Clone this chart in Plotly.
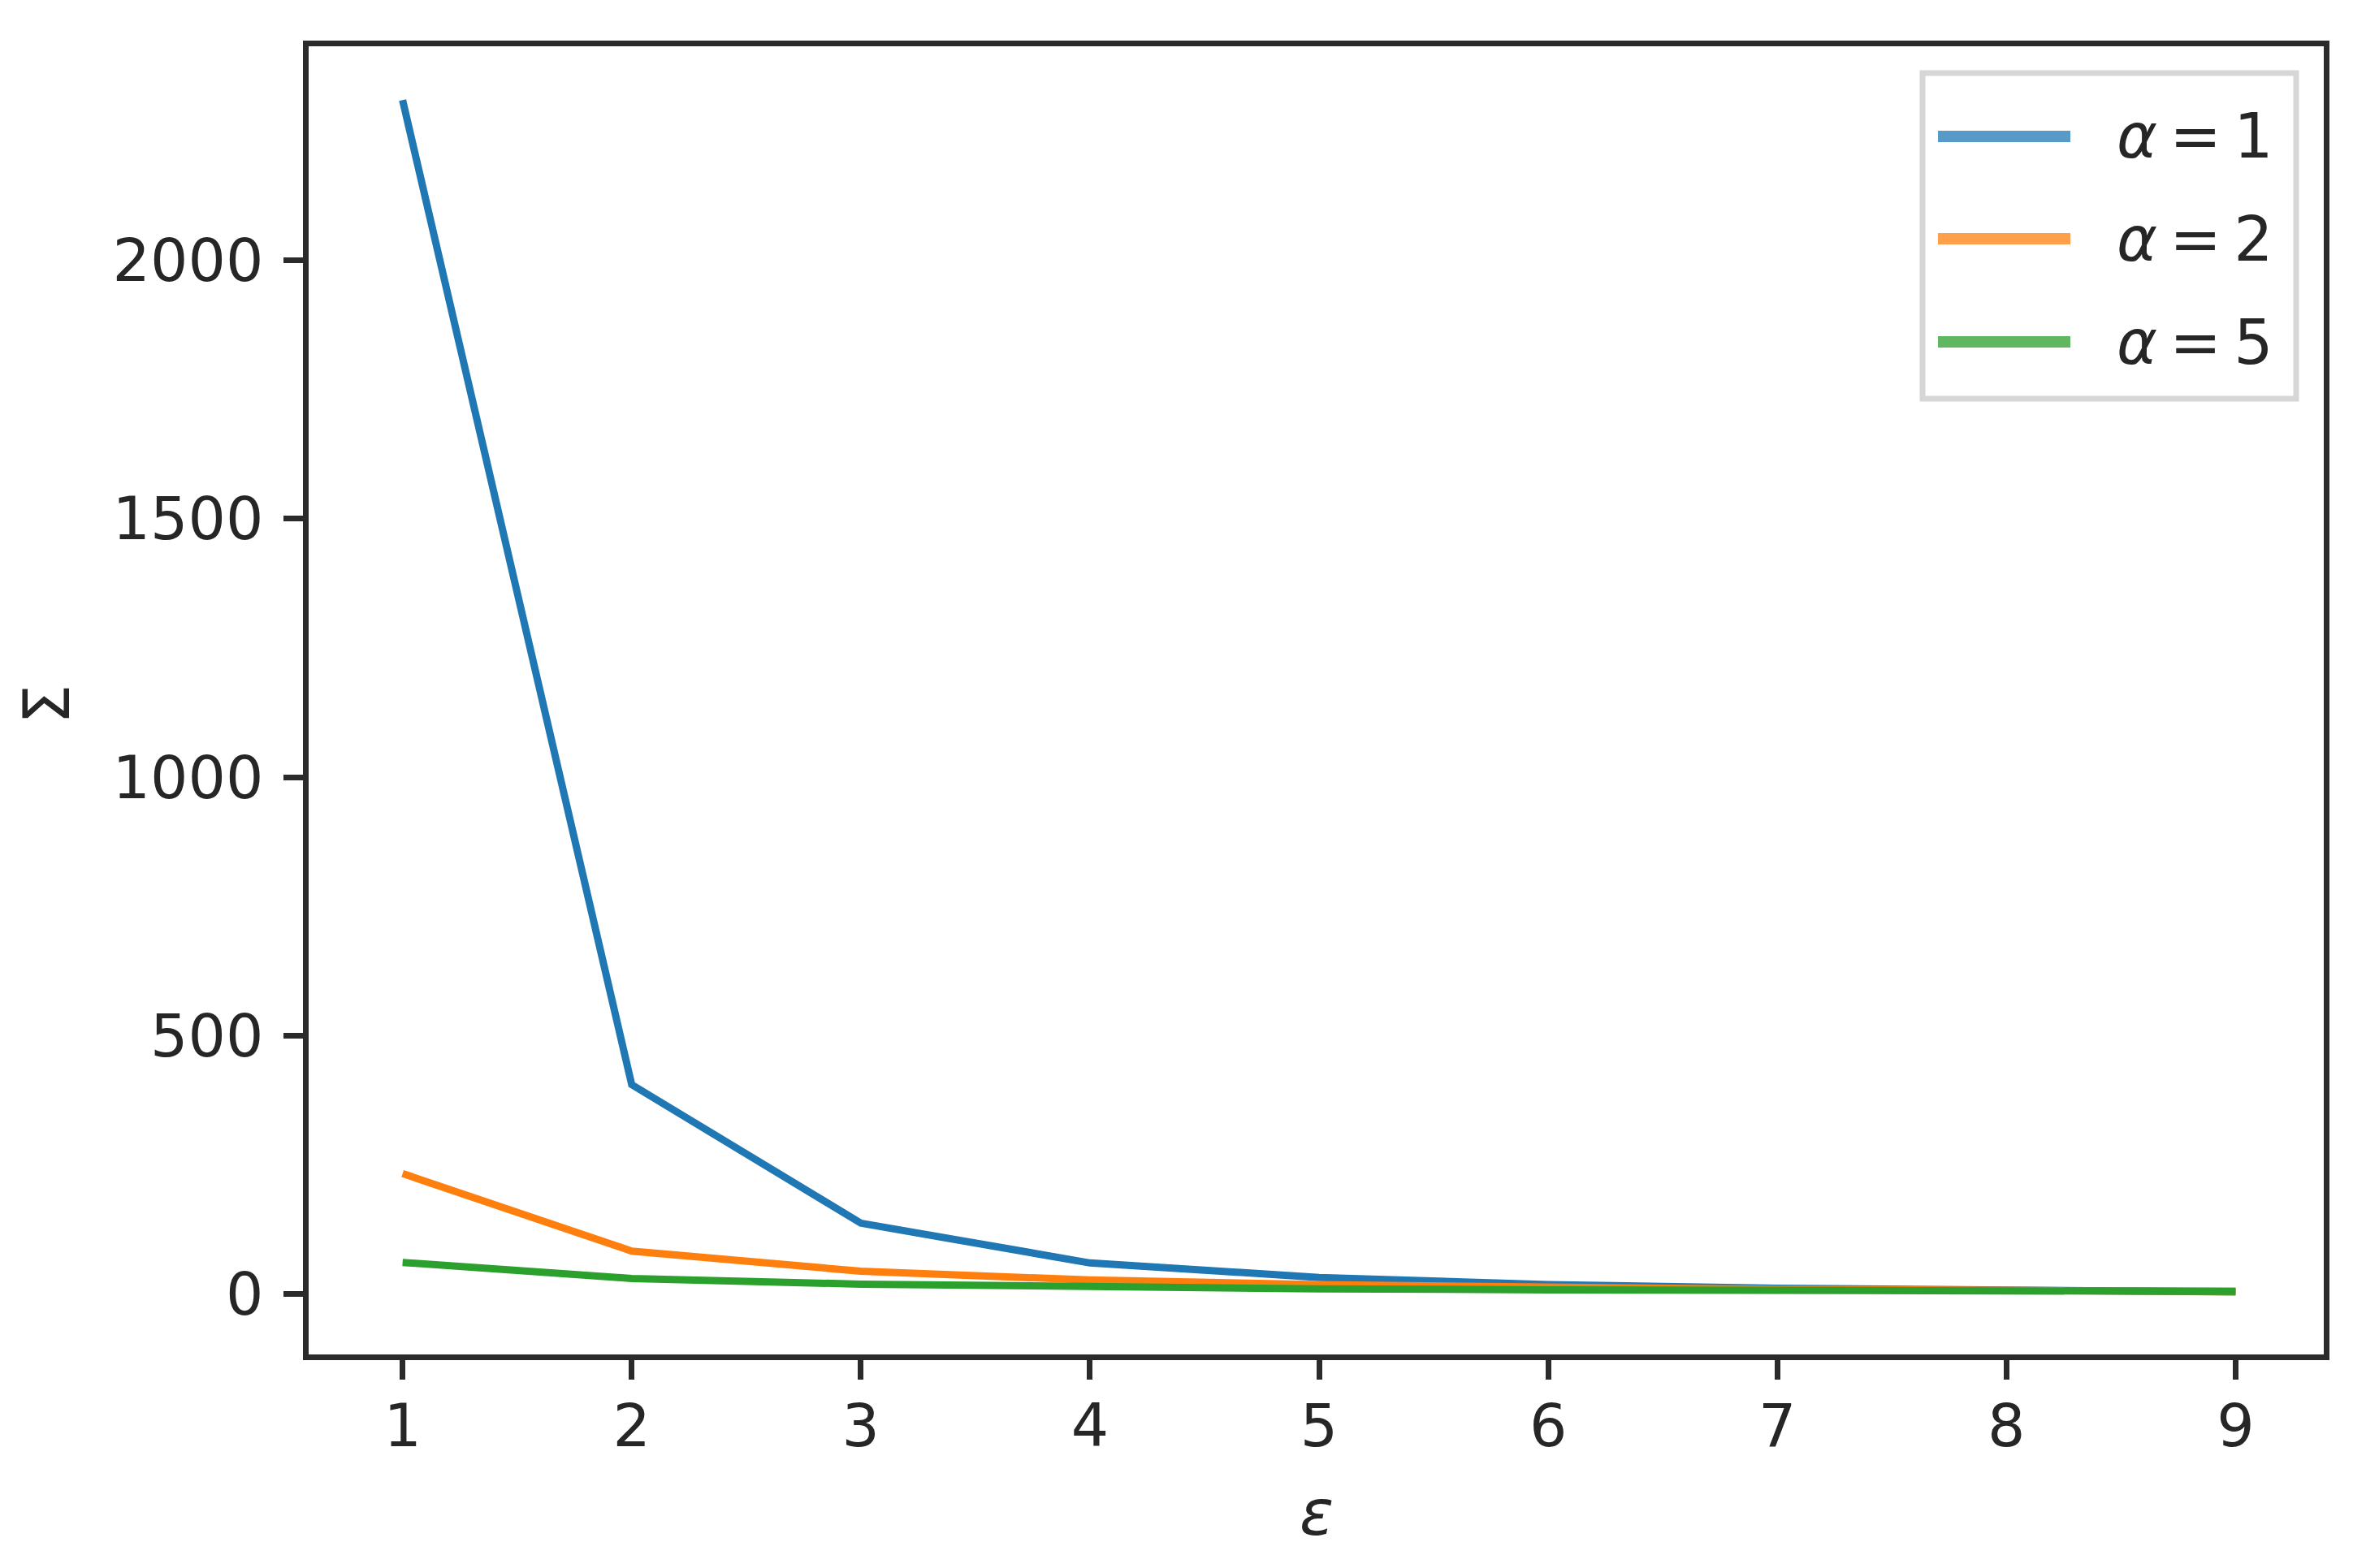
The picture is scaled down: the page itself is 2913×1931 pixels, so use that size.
import plotly.graph_objects as go

# Data.
epsilon = [1, 2, 3, 4, 5, 6, 7, 8, 9]
sigma_alpha_1 = [2310, 405, 137, 60, 32, 18, 11, 7, 4]
sigma_alpha_2 = [233, 83, 44, 27, 18, 12, 9, 7, 5]
sigma_alpha_5 = [61, 30, 19, 13, 10, 8, 7, 6, 5]

series_names = ["1", "2", "5"]
line_colors = ["#1f77b4", "#ff7f0e", "#2ca02c"]
legend_colors = ["#5799c7", "#ff9f4a", "#60b760"]

y_ticks = [0, 500, 1000, 1500, 2000]

FONT = "DejaVu Sans"
TEXT = "#262626"
AXIS = "#2b2b2b"

# The page body adds an 8px offset, so the figure is laid out 8px up/left.
OFF = 8
W, H = 2913 - OFF, 1931 - OFF
M_L, M_R, M_T, M_B = 380 - OFF, 52, 57 - OFF, 263
plot_w = W - M_L - M_R
plot_h = H - M_T - M_B


def px_x(px):
    # screen pixel -> paper x
    return (px - OFF - M_L) / plot_w


def px_y(py):
    # screen pixel -> paper y
    return (H - M_B - (py - OFF)) / plot_h


fig = go.Figure()
for values, color in zip([sigma_alpha_1, sigma_alpha_2, sigma_alpha_5], line_colors):
    fig.add_scatter(
        x=epsilon,
        y=values,
        mode="lines",
        line=dict(color=color, width=9),
        showlegend=False,
    )

fig.update_layout(
    width=W,
    height=H,
    margin=dict(l=M_L, r=M_R, t=M_T, b=M_B),
    paper_bgcolor="white",
    plot_bgcolor="white",
    font=dict(family=FONT, size=76, color=TEXT),
    showlegend=False,
)

axis_style = dict(
    ticks="outside",
    ticklen=24,
    tickwidth=7,
    tickcolor=AXIS,
    showline=True,
    linewidth=7,
    linecolor=AXIS,
    mirror=True,
    showgrid=False,
    zeroline=False,
    tickfont=dict(family=FONT, size=73, color=TEXT),
)
fig.update_xaxes(range=[0.59, 9.385], tickvals=epsilon, ticklabelstandoff=-6, **axis_style)
fig.update_yaxes(range=[-117, 2414], tickvals=y_ticks, ticklabelstandoff=10, **axis_style)

# Axis labels.
fig.add_annotation(
    text="<i>ε</i>", xref="paper", yref="paper",
    x=0.5, y=px_y(1863), xanchor="center", yanchor="middle",
    showarrow=False, font=dict(family=FONT, size=78, color=TEXT),
)
fig.add_annotation(
    text="Σ", xref="paper", yref="paper",
    x=px_x(58), y=px_y(868), xanchor="center", yanchor="middle",
    textangle=-90, showarrow=False, font=dict(family=FONT, size=78, color=TEXT),
)

# Legend box drawn by hand to match the matplotlib look.
fig.add_shape(
    type="rect", xref="paper", yref="paper",
    x0=px_x(2367), x1=px_x(2827), y0=px_y(491), y1=px_y(90),
    line=dict(color="#d6d6d6", width=7), fillcolor="rgba(255,255,255,0.85)",
    layer="above",
)
legend_rows = [168, 294, 421]
for name, color, row in zip(series_names, legend_colors, legend_rows):
    fig.add_shape(
        type="line", xref="paper", yref="paper",
        x0=px_x(2386), x1=px_x(2549), y0=px_y(row), y1=px_y(row),
        line=dict(color=color, width=14), layer="above",
    )
    fig.add_annotation(
        text="<i>α</i>\u2009=\u2009" + name, xref="paper", yref="paper",
        x=px_x(2604), y=px_y(row), xanchor="left", yanchor="middle",
        showarrow=False, font=dict(family=FONT, size=76, color=TEXT),
    )

fig.write_html("out.html")
